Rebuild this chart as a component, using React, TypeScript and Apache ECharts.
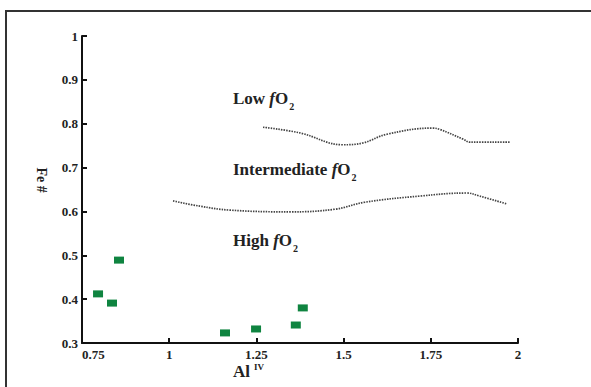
import React, { useEffect, useRef } from "react";
import * as echarts from "echarts";

// Scatter samples (Al IV vs Fe #)
const alIV = [0.796, 0.836, 0.856, 1.16, 1.249, 1.363, 1.383];
const feNum = [0.412, 0.391, 0.489, 0.323, 0.332, 0.341, 0.38];

// Boundary between Low and Intermediate fO2
const lowBoundX = [1.269, 1.375, 1.498, 1.555, 1.624, 1.756, 1.776, 1.842, 1.862, 1.976];
const lowBoundY = [0.792, 0.779, 0.752, 0.756, 0.776, 0.79, 0.787, 0.765, 0.758, 0.758];

// Boundary between Intermediate and High fO2
const highBoundX = [1.011, 1.088, 1.174, 1.346, 1.475, 1.561, 1.718, 1.853, 1.89, 1.968];
const highBoundY = [0.624, 0.612, 0.603, 0.599, 0.605, 0.621, 0.635, 0.642, 0.635, 0.617];

const xTicks = { min: 0.75, max: 2, interval: 0.25 };
const yTicks = { min: 0.3, max: 1, interval: 0.1 };

const SERIF = "Liberation Serif";

function fo2Label(prefix: string) {
  return {
    text: `{b|${prefix} }{i|f}{b|O}{s|2}`,
    rich: {
      b: { fontFamily: SERIF, fontWeight: "bold", fontSize: 17, fill: "#222", lineHeight: 17, verticalAlign: "top" },
      i: { fontFamily: SERIF, fontWeight: "bold", fontStyle: "italic", fontSize: 17, fill: "#222", lineHeight: 17, verticalAlign: "top" },
      s: { fontFamily: SERIF, fontWeight: "bold", fontSize: 10, fill: "#222", lineHeight: 10, padding: [11, 0, 0, 1], verticalAlign: "top" },
    },
  };
}

export default function App() {
  const ref = useRef<HTMLDivElement>(null);
  useEffect(() => {
    document.body.style.margin = "0";
    if (!ref.current) return;
    const chart = echarts.init(ref.current, null, { renderer: "svg" });
    const axisLabel = { fontFamily: SERIF, fontWeight: "bold" as const, fontSize: 13, color: "#222" };
    chart.setOption({
      animation: false,
      backgroundColor: "#fff",
      textStyle: { fontFamily: SERIF },
      grid: { left: 82, right: 73, top: 36, bottom: 44 },
      xAxis: {
        type: "value",
        min: xTicks.min,
        max: xTicks.max,
        interval: xTicks.interval,
        splitLine: { show: false },
        axisLine: { lineStyle: { color: "#111", width: 2 } },
        axisTick: { inside: true, length: 5, lineStyle: { color: "#111", width: 2 } },
        axisLabel: { ...axisLabel, margin: 5, alignMinLabel: "left", formatter: (v: number) => String(+v.toFixed(2)) },
      },
      yAxis: {
        type: "value",
        min: yTicks.min,
        max: yTicks.max,
        interval: yTicks.interval,
        splitLine: { show: false },
        axisLine: { show: true, lineStyle: { color: "#111", width: 2 } },
        axisTick: { show: true, inside: true, length: 5, lineStyle: { color: "#111", width: 2 } },
        axisLabel: { ...axisLabel, margin: 4, formatter: (v: number) => String(+v.toFixed(1)) },
      },
      series: [
        {
          type: "scatter",
          symbol: "rect",
          symbolSize: [10, 7],
          itemStyle: { color: "#0f8440", opacity: 1 },
          data: alIV.map((x, i) => [x, feNum[i]]),
        },
        {
          type: "line",
          smooth: 0.4,
          showSymbol: false,
          lineStyle: { color: "#444", width: 1.7, type: [1.5, 1.1] },
          data: lowBoundX.map((x, i) => [x, lowBoundY[i]]),
        },
        {
          type: "line",
          smooth: 0.4,
          showSymbol: false,
          lineStyle: { color: "#444", width: 1.7, type: [1.5, 1.1] },
          data: highBoundX.map((x, i) => [x, highBoundY[i]]),
        },
      ],
      graphic: [
        {
          type: "rect",
          shape: { x: 6, y: 11, width: 640, height: 420 },
          style: { fill: "none", stroke: "#333", lineWidth: 2 },
          silent: true,
        },
        { type: "text", x: 233, y: 90, style: fo2Label("Low") },
        { type: "text", x: 233, y: 161, style: fo2Label("Intermediate") },
        { type: "text", x: 233, y: 232, style: fo2Label("High") },
        {
          type: "text",
          x: 233,
          y: 362,
          style: {
            text: "{a|Al}{p|IV}",
            rich: {
              a: { fontFamily: SERIF, fontWeight: "bold", fontSize: 17, fill: "#222", lineHeight: 18, verticalAlign: "bottom" },
              p: { fontFamily: SERIF, fontWeight: "bold", fontSize: 9, fill: "#222", lineHeight: 9, padding: [0, 0, 0, 4], verticalAlign: "top" },
            },
          },
        },
        {
          type: "text",
          x: 41,
          y: 180,
          rotation: -Math.PI / 2,
          style: {
            text: "Fe #",
            fontFamily: SERIF,
            fontWeight: "bold",
            fontSize: 14,
            fill: "#222",
            align: "center",
            verticalAlign: "middle",
          },
        },
      ],
    });
    return () => chart.dispose();
  }, []);
  return <div ref={ref} style={{ width: 591, height: 387 }} />;
}
